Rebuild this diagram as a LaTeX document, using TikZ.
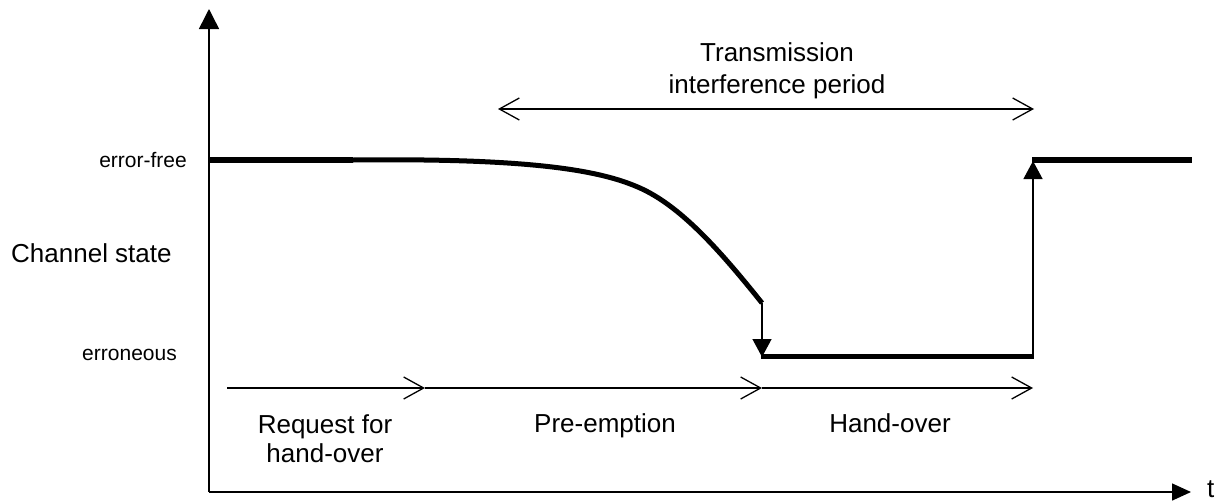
\documentclass[tikz,border=0pt]{standalone}
\usepackage{fontspec}
\setmainfont{Liberation Sans}
\usetikzlibrary{arrows.meta}
\begin{document}
\begin{tikzpicture}[x=1pt,y=-1pt,
  axis/.style={line width=1.5pt},
  axistip/.style={-{Triangle[length=20pt,width=20pt]}},
  thinarrow/.style={line width=1.3pt,-{Triangle[length=18pt,width=19pt]}},
  barb/.tip={Straight Barb[length=20pt,width=22pt,line width=1.3pt]},
  openarrow/.style={line width=1.3pt,-barb},
  openboth/.style={line width=1.3pt,barb-barb},
  level/.style={line width=6.5pt},
  curveline/.style={line width=5pt},
  big/.style={font=\fontsize{26}{32}\selectfont,inner sep=0pt},
  small/.style={font=\fontsize{21}{25}\selectfont,inner sep=0pt}]
\useasboundingbox (0,0) rectangle (1226,501);
% axes
\coordinate (O) at (209,492);
\coordinate (ytop) at (209,9);
\coordinate (xend) at (1191,492);
\draw[axis,axistip] (O) -- (ytop);
\draw[axis,-{Triangle[length=19pt,width=17pt]}] (O) -- (xend);
\node[big,anchor=base west] (t) at (1207,497) {t};
% labels of axis
\node[small,anchor=base east] (ef) at (187,167) {error-free};
\node[small,anchor=base east] (er) at (177,360) {erroneous};
\node[big,anchor=base west] (cs) at (11,262) {Channel state};
% channel curve
\coordinate (a0) at (209,160);
\coordinate (a1) at (353,160);
\coordinate (a2) at (640,188);
\coordinate (a3) at (762,303);
\coordinate (b0) at (762,356);
\coordinate (b1) at (1033,356);
\coordinate (c0) at (1033,160);
\coordinate (c1) at (1192,160);
\draw[level] (a0) -- (a1);
\draw[curveline] (a1) .. controls (530,158) and (600,170) .. (a2)
  .. controls (680,206) and (718,248) .. (a3);
\draw[thinarrow] (a3) -- ([yshift=-1pt]b0);
\draw[line width=5pt] ([xshift=-0.6pt]b0) -- ([xshift=0.6pt]b1);
\draw[thinarrow] ([yshift=2pt]b1) -- ([yshift=-1pt]c0);
\draw[line width=6pt] ([xshift=-0.6pt]c0) -- (c1);
% transmission interference period
\coordinate (ti0) at (498,109);
\coordinate (ti1) at (1034,109);
\draw[openboth] (ti0) -- (ti1);
\node[big,align=center,anchor=base] (tip) at (777,93) {Transmission\\interference period};
% phases
\coordinate (p0) at (227,388);
\coordinate (p1) at (425,388);
\coordinate (p2) at (762,388);
\coordinate (p3) at (1033,388);
\draw[openarrow] (p0) -- (p1);
\draw[openarrow] (p1) -- (p2);
\draw[openarrow] (p2) -- (p3);
\node[big,align=center,anchor=base,font=\fontsize{26}{29}\selectfont] (req) at (325,462) {Request for\\hand-over};
\node[big,anchor=base] (pre) at (605,432) {Pre-emption};
\node[big,anchor=base] (ho) at (890,432) {Hand-over};
\end{tikzpicture}
\end{document}
